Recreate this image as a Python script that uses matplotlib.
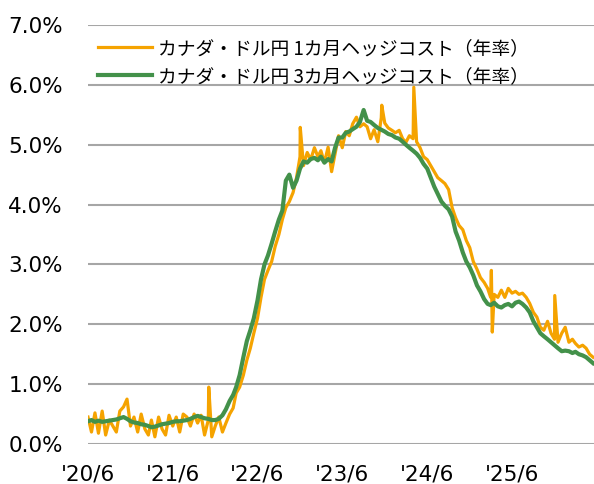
import numpy as np
import pandas as pd
import matplotlib
matplotlib.use("Agg")
import matplotlib.pyplot as plt
from matplotlib.ticker import FuncFormatter

plt.rcParams['font.family'] = ['DejaVu Sans']

# semi-monthly readings (1st and 16th of each month), Jun 2020 - May 2026, in %
start_month = "2020-06"
n_months = 72

# 1M hedge cost (orange)
cost_1m = [
    0.45, 0.20, 0.52, 0.18, 0.55, 0.15, 0.40, 0.30, 0.20, 0.55, 0.62, 0.75,
    0.30, 0.45, 0.20, 0.50, 0.25, 0.15, 0.40, 0.12, 0.45, 0.25, 0.15, 0.48,
    0.30, 0.45, 0.20, 0.50, 0.45, 0.30, 0.50, 0.35, 0.48, 0.15, 0.40, 0.12,
    0.30, 0.45, 0.20, 0.35, 0.50, 0.60, 0.85, 0.95, 1.15, 1.40, 1.60, 1.85,
    2.10, 2.45, 2.75, 2.90, 3.05, 3.30, 3.50, 3.75, 3.95, 4.05, 4.20, 4.45,
    4.80, 4.65, 4.87, 4.75, 4.95, 4.80, 4.90, 4.70, 4.96, 4.55, 4.85, 5.15,
    4.95, 5.22, 5.15, 5.35, 5.46, 5.30, 5.35, 5.30, 5.10, 5.25, 5.05, 5.45,
    5.36, 5.28, 5.24, 5.20, 5.24, 5.10, 5.04, 5.15, 5.10, 5.05, 4.95, 4.80,
    4.75, 4.65, 4.55, 4.45, 4.40, 4.35, 4.25, 3.95, 3.78, 3.65, 3.58, 3.40,
    3.28, 3.05, 2.92, 2.78, 2.70, 2.60, 2.45, 2.50, 2.45, 2.57, 2.45, 2.60,
    2.52, 2.55, 2.50, 2.52, 2.45, 2.35, 2.20, 2.12, 1.95, 1.90, 2.05, 1.85,
    1.75, 1.70, 1.85, 1.95, 1.70, 1.75, 1.68, 1.62, 1.65, 1.60, 1.50, 1.45,
]
# single-day spikes in the 1M series
spike_dates_1m = ["2021-11-03", "2022-12-02", "2023-11-18", "2024-04-04",
                  "2025-03-04", "2025-03-08", "2025-12-02"]
spike_vals_1m = [0.95, 5.29, 5.66, 5.96, 2.90, 1.87, 2.48]

# 3M hedge cost (green)
cost_3m = [
    0.38, 0.40, 0.37, 0.39, 0.37, 0.38, 0.39, 0.40, 0.41, 0.43, 0.45, 0.42,
    0.38, 0.36, 0.35, 0.33, 0.32, 0.30, 0.28, 0.29, 0.31, 0.33, 0.34, 0.35,
    0.37, 0.38, 0.38, 0.39, 0.40, 0.42, 0.45, 0.47, 0.45, 0.43, 0.42, 0.40,
    0.40, 0.42, 0.48, 0.58, 0.72, 0.82, 0.95, 1.15, 1.45, 1.72, 1.90, 2.10,
    2.40, 2.75, 3.00, 3.15, 3.35, 3.55, 3.75, 3.90, 4.40, 4.50, 4.28, 4.40,
    4.60, 4.72, 4.70, 4.76, 4.78, 4.74, 4.80, 4.70, 4.76, 4.72, 4.95, 5.12,
    5.12, 5.20, 5.22, 5.26, 5.30, 5.38, 5.58, 5.40, 5.38, 5.33, 5.28, 5.25,
    5.22, 5.18, 5.16, 5.12, 5.10, 5.05, 5.00, 4.95, 4.90, 4.85, 4.78, 4.68,
    4.60, 4.45, 4.30, 4.18, 4.05, 3.98, 3.92, 3.80, 3.55, 3.40, 3.20, 3.05,
    2.95, 2.82, 2.65, 2.55, 2.42, 2.34, 2.32, 2.36, 2.30, 2.28, 2.32, 2.34,
    2.30, 2.36, 2.38, 2.34, 2.28, 2.20, 2.05, 1.95, 1.85, 1.80, 1.75, 1.70,
    1.65, 1.60, 1.55, 1.56, 1.55, 1.52, 1.54, 1.50, 1.48, 1.45, 1.40, 1.35,
]

labels = ["カナダ・ドル円 1カ月ヘッジコスト（年率）",
          "カナダ・ドル円 3カ月ヘッジコスト（年率）"]
tick_dates = ["2020-06-01", "2021-06-01", "2022-06-01",
              "2023-06-01", "2024-06-01", "2025-06-01"]
tick_labels = ["'20/6", "'21/6", "'22/6", "'23/6", "'24/6", "'25/6"]

months = pd.period_range(start_month, periods=n_months, freq="M").to_timestamp()
dates = []
for m in months:
    dates.append(m)
    dates.append(m + pd.Timedelta(days=15))
dates = pd.DatetimeIndex(dates)

s1 = pd.Series(cost_1m, index=dates)
s1 = pd.concat([s1, pd.Series(spike_vals_1m, index=pd.to_datetime(spike_dates_1m))]).sort_index()
s3 = pd.Series(cost_3m, index=dates)

fig = plt.figure(figsize=(5.94, 4.84), dpi=100)
ax = fig.add_axes([88 / 594, 40 / 484, 506 / 594, 419 / 484])

ax.plot(s1.index, s1.values, color="#F5A300", lw=2.3, label=labels[0], zorder=3)
ax.plot(s3.index, s3.values, color="#43914A", lw=3.0, label=labels[1], zorder=4)

ax.set_ylim(0, 7)
ax.set_yticks(np.arange(0, 7.5, 1))
ax.yaxis.set_major_formatter(FuncFormatter(lambda v, p: f"{v:.1f}%"))
ax.set_xlim(dates[0], pd.Timestamp("2026-05-20"))
ax.set_xticks(pd.to_datetime(tick_dates))
ax.set_xticklabels(tick_labels)
ax.tick_params(axis="both", length=0, labelsize=15.5, colors="#000000")
ax.tick_params(axis="y", pad=18)
ax.tick_params(axis="x", pad=15)
ax.grid(axis="y", color="#A6A6A6", lw=1.5)
ax.set_axisbelow(True)
for sp in ax.spines.values():
    sp.set_visible(False)

leg = ax.legend(loc="upper left", bbox_to_anchor=(10 / 506, 0.969), frameon=False,
                prop={"family": ["Noto Sans CJK JP", "DejaVu Sans"], "size": 13.5},
                handlelength=2.9, handletextpad=0.3, labelspacing=0.36,
                borderaxespad=0, borderpad=0)

fig.savefig("out.png", dpi=100)
